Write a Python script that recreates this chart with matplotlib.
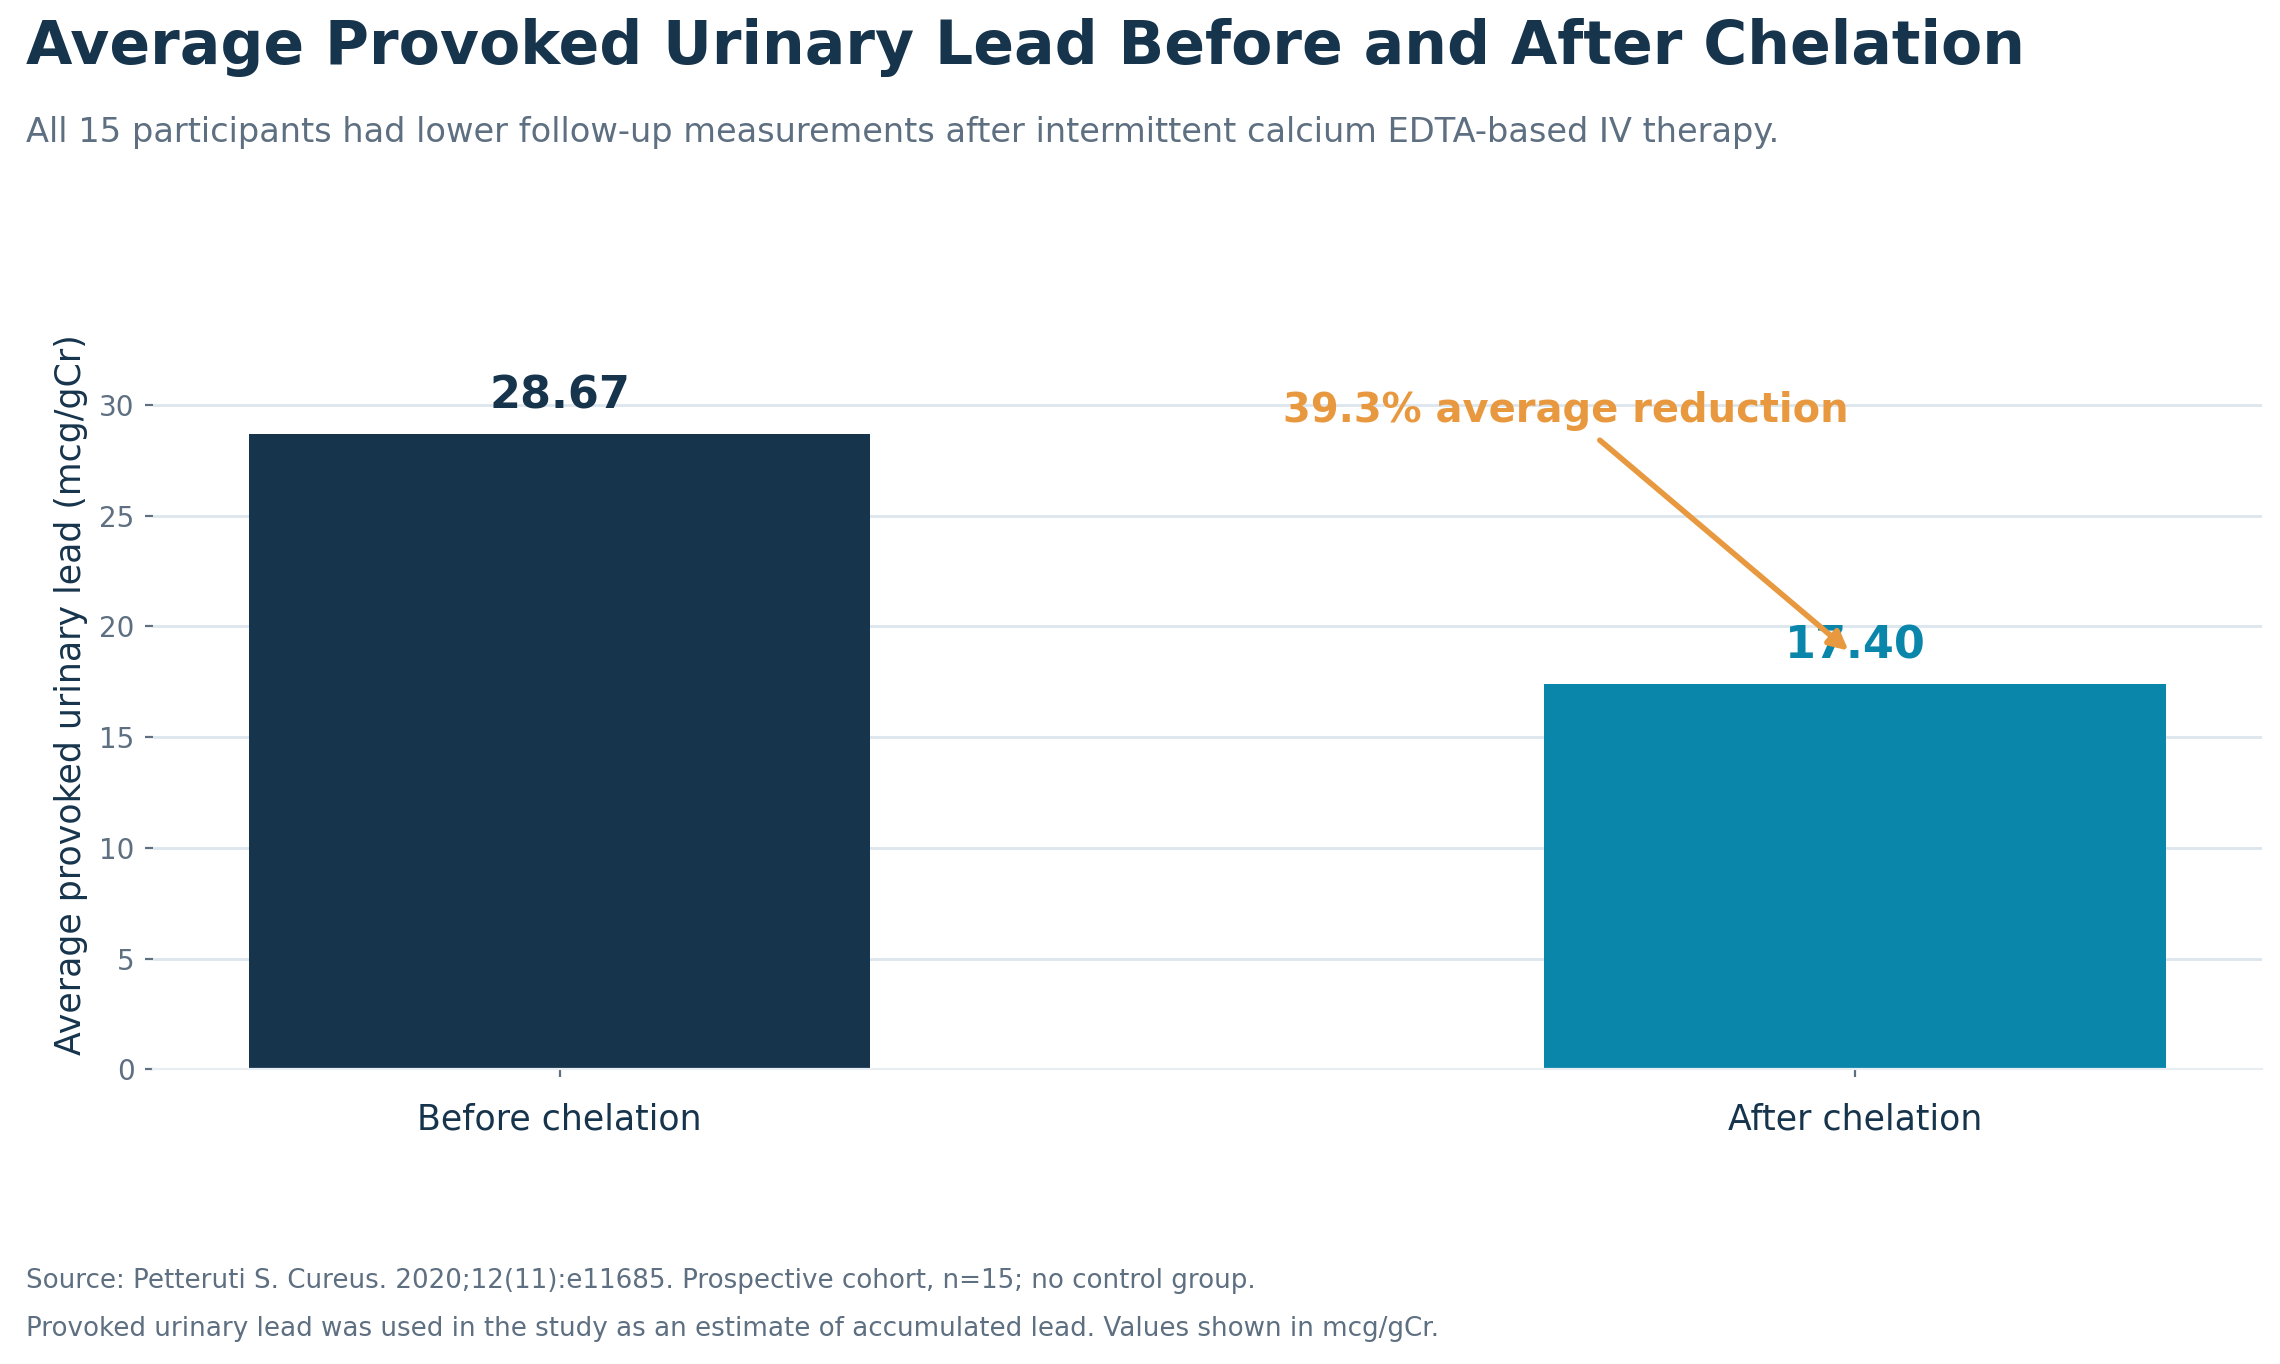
import matplotlib
matplotlib.use("Agg")
import matplotlib.pyplot as plt

# data
stages = ["Before chelation", "After chelation"]
avg_lead = [28.67, 17.40]
reduction_pct = 39.3

navy = "#17344d"
teal = "#0a86ab"
orange = "#e8993f"
gray = "#5d6f80"
grid_col = "#dce6ec"

plt.rcParams['font.family'] = ['DejaVu Sans']

fig = plt.figure(figsize=(11.4, 6.82), dpi=200)
ax = fig.add_axes([0.067, 0.216, 0.925, 0.549])

x_pos = list(range(len(stages)))
bars = ax.bar(x_pos, avg_lead, width=0.48, color=[navy, teal], zorder=2)

## 값 라벨
for xi, val, col in zip(x_pos, avg_lead, [navy, teal]):
    ax.annotate(f"{val:.2f}", (xi, val), xytext=(0, 6), textcoords="offset points",
                ha="center", va="bottom", fontsize=16, fontweight="bold", color=col, zorder=4)

## 감소율 주석
ax.text(0.777, 29.7, f"{reduction_pct}% average reduction", ha="center", va="center",
        fontsize=14.4, fontweight="bold", color=orange, zorder=5)
ax.annotate("", xy=(0.995, avg_lead[1] + 1.5), xytext=(0.803, 28.4),
            arrowprops=dict(arrowstyle="-|>", color=orange, lw=2, mutation_scale=14,
                            shrinkA=0, shrinkB=0), zorder=5)

ax.set_xlim(-0.314, 1.314)
ax.set_ylim(0, 33.8)
ax.set_xticks(x_pos)
ax.set_xticklabels(stages, fontsize=12.5, color=navy)
ax.set_yticks([0, 5, 10, 15, 20, 25, 30])
ax.tick_params(axis="y", labelsize=10, labelcolor=gray, color=gray, length=3)
ax.tick_params(axis="x", color=gray, length=3, pad=9)
ax.set_ylabel("Average provoked urinary lead (mcg/gCr)", fontsize=12.5, color=navy)

ax.grid(axis="y", color=grid_col, lw=1, zorder=0)
for side in ["top", "right", "left"]:
    ax.spines[side].set_visible(False)
ax.spines["bottom"].set_color("#e8eef2")

## 제목, 부제, 출처
fig.text(0.0115, 0.965, "Average Provoked Urinary Lead Before and After Chelation",
         fontsize=21.6, fontweight="bold", color=navy, ha="left", va="center")
fig.text(0.0115, 0.903, "All 15 participants had lower follow-up measurements after intermittent calcium EDTA-based IV therapy.",
         fontsize=12.1, color=gray, ha="left", va="center")
fig.text(0.0115, 0.061, "Source: Petteruti S. Cureus. 2020;12(11):e11685. Prospective cohort, n=15; no control group.",
         fontsize=9.4, color=gray, ha="left", va="center")
fig.text(0.0115, 0.026, "Provoked urinary lead was used in the study as an estimate of accumulated lead. Values shown in mcg/gCr.",
         fontsize=9.4, color=gray, ha="left", va="center")

fig.savefig("out.png", dpi=200)
